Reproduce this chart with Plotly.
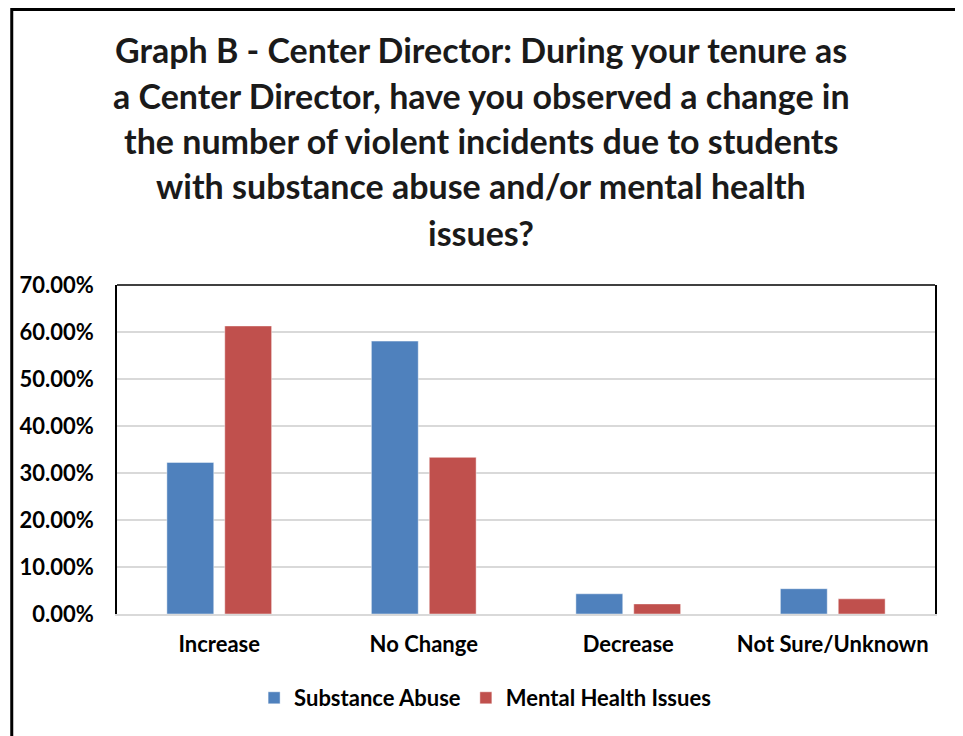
import plotly.graph_objects as go

categories = ["Increase", "No Change", "Decrease", "Not Sure/Unknown"]
substance_abuse = [0.3226, 0.5806, 0.0430, 0.0538]
mental_health = [0.6129, 0.3333, 0.0215, 0.0323]
series_names = ["Substance Abuse", "Mental Health Issues"]
tick_vals = [0, 0.1, 0.2, 0.3, 0.4, 0.5, 0.6, 0.7]
title_lines = [
    "Graph B - Center Director: During your tenure as",
    "a Center Director, have you observed a change in",
    "the number of violent incidents due to students",
    "with substance abuse and/or mental health",
    "issues?",
]

OFF = 8  # page body margin
W, H = 963 - OFF, 736 - OFF
L, R, T, B = 115 - OFF, 935 - OFF, 285 - OFF, 614 - OFF
pw, ph = R - L, B - T

def px_x(x):  # page pixel -> paper
    return (x - OFF - L) / pw

def px_y(y):
    return (B - (y - OFF)) / ph

FONT = "Lato"

fig = go.Figure()
fig.add_trace(go.Bar(x=categories, y=substance_abuse, name=series_names[0],
                     marker=dict(color="#4F81BD", line=dict(color="rgba(255,255,255,0.45)", width=1))))
fig.add_trace(go.Bar(x=categories, y=mental_health, name=series_names[1],
                     marker=dict(color="#C0504D", line=dict(color="rgba(255,255,255,0.45)", width=1))))

title_y = [49, 96, 140, 186, 232]
for line, yp in zip(title_lines, title_y):
    fig.add_annotation(text=line, xref="paper", yref="paper", x=px_x(480), y=px_y(yp),
                       xanchor="center", yanchor="middle", showarrow=False,
                       font=dict(family=FONT, size=34, color="#1a1a1a", weight="bold"))

# outer frame (cropped on right and bottom)
fig.add_shape(type="rect", xref="paper", yref="paper", x0=px_x(OFF + 1.5), x1=px_x(1100),
              y0=px_y(1100), y1=px_y(OFF + 1.5), line=dict(color="black", width=3), layer="above")
# top border of plot area
fig.add_shape(type="line", xref="paper", yref="paper", x0=0, x1=1, y0=1, y1=1,
              line=dict(color="black", width=1.5))

fig.update_layout(
    width=W, height=H,
    margin=dict(l=L, r=W - R, t=T, b=H - B),
    paper_bgcolor="white", plot_bgcolor="white",
    barmode="group", bargap=0.434, bargroupgap=0.19,
    font=dict(family=FONT, color="black"),
    showlegend=True,
    legend=dict(orientation="h", x=px_x(484), xanchor="center", y=px_y(698), yanchor="middle",
                font=dict(family=FONT, size=22, color="black", weight="bold"),
                itemwidth=30, tracegroupgap=0),
)
fig.update_xaxes(showline=True, linecolor="#D9D9D9", linewidth=2, ticks="",
                 tickfont=dict(family=FONT, size=22, color="black", weight="bold"),
                 ticklabelstandoff=10, showgrid=False)
fig.update_yaxes(range=[0, 0.7], tickvals=tick_vals, tickformat=".2%",
                 showgrid=True, gridcolor="#D9D9D9", gridwidth=1.5,
                 showline=True, linecolor="black", linewidth=1.5, mirror=True,
                 ticks="", ticklabelstandoff=17, zeroline=False,
                 tickfont=dict(family=FONT, size=22, color="black", weight="bold"))

fig.write_html("out.html")
